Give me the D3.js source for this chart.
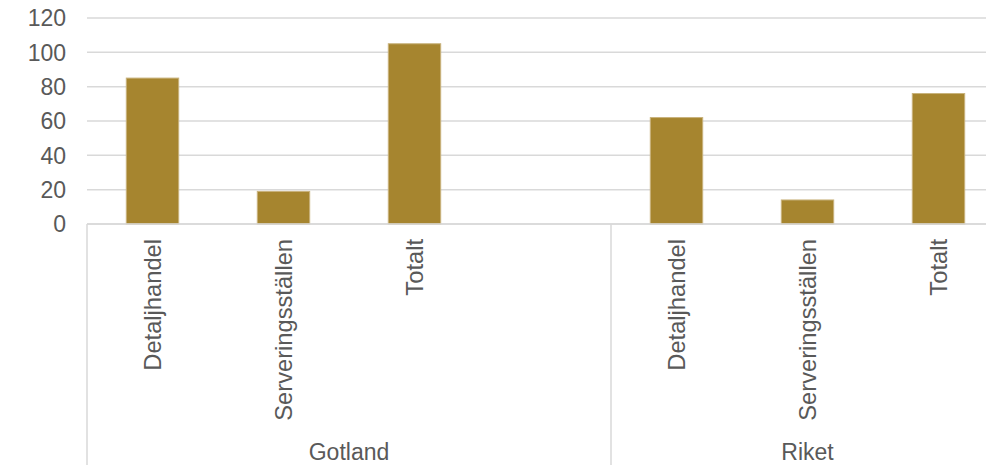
<!DOCTYPE html>
<html>
<head>
<meta charset="utf-8">
<script src="https://cdn.jsdelivr.net/npm/d3@7"></script>
<style>
  body { margin: 0; background: #fff; }
  svg { display: block; font-family: "Liberation Sans", Arial, sans-serif; }
</style>
</head>
<body>
<div id="chart"></div>
<script>
const groups = ["Gotland", "Riket"],
  categories = ["Detaljhandel", "Serveringsställen", "Totalt"],
  gotlandValues = [85, 19, 105],
  riketValues = [62, 14, 76],
  yTicks = [0, 20, 40, 60, 80, 100, 120];

const width = 986,
  height = 465,
  margin = { top: 18, left: 87, bottom: 241 },
  plotRight = 1004, // plot runs past the picture edge, as in the original
  barColor = "#a6852f",
  gridColor = "#d9d9d9",
  textColor = "#595959";

// slots: Gotland gets one empty slot at the end
const slots = [];
categories.forEach((c, i) => slots.push({ group: "Gotland", cat: c, value: gotlandValues[i] }));
slots.push({ group: "Gotland", cat: "", value: null });
categories.forEach((c, i) => slots.push({ group: "Riket", cat: c, value: riketValues[i] }));
slots.forEach((d, i) => d.key = i);

const svg = d3.select("#chart")
  .append("svg")
  .attr("width", width)
  .attr("height", height);

const x = d3.scaleBand()
  .domain(slots.map(d => d.key))
  .range([margin.left, plotRight])
  .padding(0);

const y = d3.scaleLinear()
  .domain([0, 120])
  .range([height - margin.bottom, margin.top]);

// gridlines
svg.append("g")
  .selectAll("line")
  .data(yTicks)
  .enter()
  .append("line")
  .attr("x1", margin.left)
  .attr("x2", plotRight)
  .attr("y1", d => y(d))
  .attr("y2", d => y(d))
  .attr("stroke", gridColor)
  .attr("stroke-width", 1.5);

// y labels
svg.append("g")
  .selectAll("text")
  .data(yTicks)
  .enter()
  .append("text")
  .attr("x", 66)
  .attr("y", d => y(d))
  .attr("dy", "0.36em")
  .attr("text-anchor", "end")
  .attr("fill", textColor)
  .style("font-size", "23px")
  .text(d => d);

// bars
const bw = x.bandwidth() * 0.4;
svg.append("g")
  .selectAll("rect")
  .data(slots.filter(d => d.value != null))
  .enter()
  .append("rect")
  .attr("x", d => x(d.key) + (x.bandwidth() - bw) / 2)
  .attr("y", d => y(d.value))
  .attr("width", bw)
  .attr("height", d => y(0) - y(d.value))
  .attr("fill", barColor)
  .attr("stroke", "#c8b27c")
  .attr("stroke-width", 1);

// category labels, rotated
svg.append("g")
  .selectAll("text")
  .data(slots.filter(d => d.cat))
  .enter()
  .append("text")
  .attr("transform", d => "translate(" + (x(d.key) + x.bandwidth() / 2) + "," + 239 + ") rotate(-90)")
  .attr("dy", "0.35em")
  .attr("text-anchor", "end")
  .attr("fill", textColor)
  .style("font-size", "23.7px")
  .text(d => d.cat);

// group separators and labels
const groupInfo = groups.map(g => {
  const s = slots.filter(d => d.group === g);
  return { name: g, x0: x(s[0].key), x1: x(s[s.length - 1].key) + x.bandwidth() };
});

svg.append("g")
  .selectAll("line")
  .data(groupInfo)
  .enter()
  .append("line")
  .attr("x1", d => d.x0)
  .attr("x2", d => d.x0)
  .attr("y1", y(0))
  .attr("y2", height)
  .attr("stroke", gridColor)
  .attr("stroke-width", 1.5);

svg.append("g")
  .selectAll("text")
  .data(groupInfo)
  .enter()
  .append("text")
  .attr("x", d => (d.x0 + d.x1) / 2)
  .attr("y", 460)
  .attr("text-anchor", "middle")
  .attr("fill", textColor)
  .style("font-size", "23px")
  .text(d => d.name);

// baseline
svg.append("line")
  .attr("x1", margin.left)
  .attr("x2", plotRight)
  .attr("y1", y(0))
  .attr("y2", y(0))
  .attr("stroke", gridColor)
  .attr("stroke-width", 1.5);
</script>
</body>
</html>
